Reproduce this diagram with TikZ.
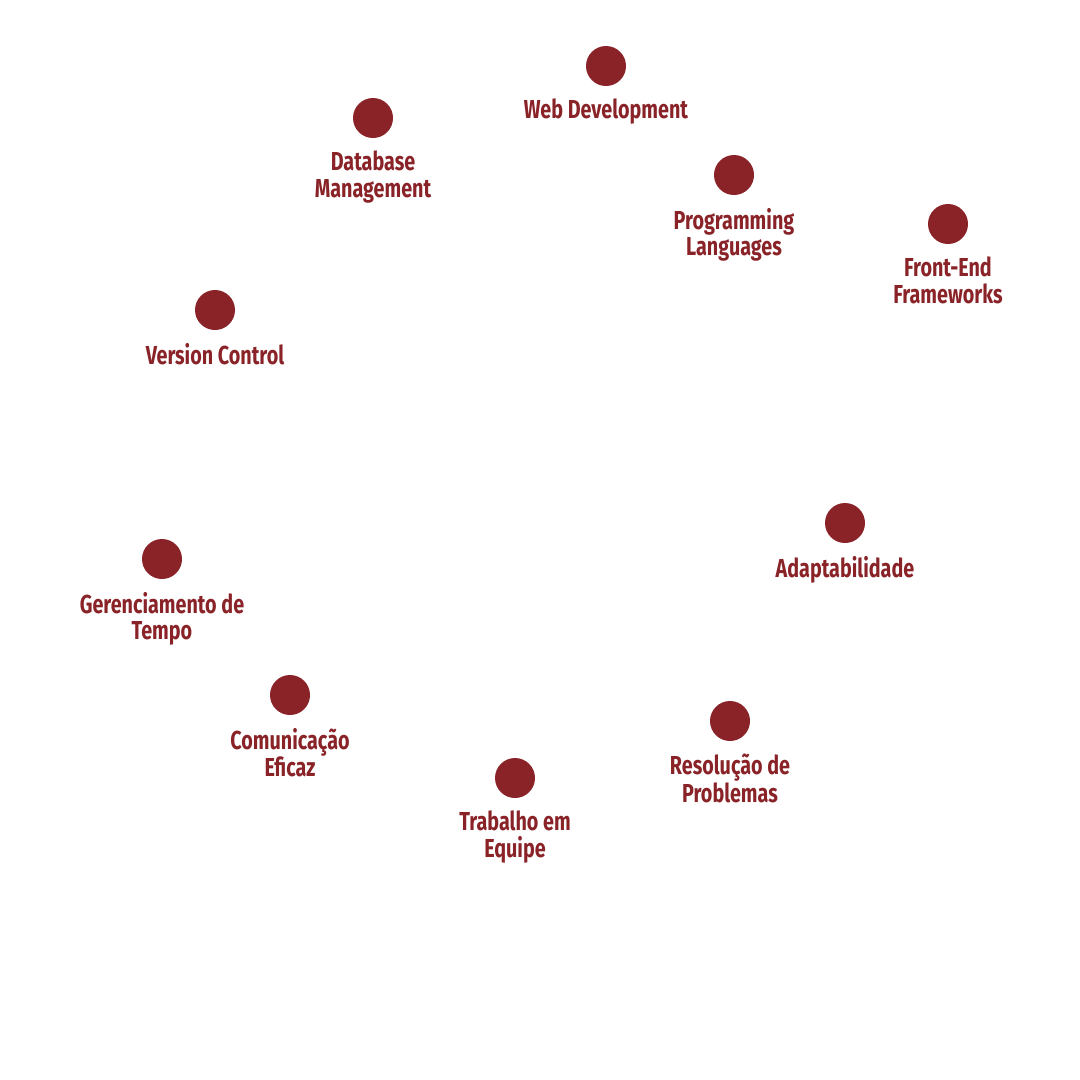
\documentclass[tikz,border=0pt]{standalone}
\usepackage{fontspec}
\setmainfont{Fira Sans}[FakeStretch=0.76]
\definecolor{dotred}{HTML}{8A2328}
\begin{document}
\begin{tikzpicture}[x=1pt,y=-1pt,
  dotmark/.style={circle,fill=dotred,draw=none,minimum size=40pt,inner sep=0pt},
  skill/.style={text=dotred,font=\fontsize{26}{26.5}\selectfont\bfseries,align=center,anchor=north,inner sep=0pt}]
\useasboundingbox[fill=white] (0,0) rectangle (1080,1080);
\node[dotmark] (d1) at (606,66) {};
\node[skill] (t1) at (606,99) {Web Development};
\node[dotmark] (d2) at (373,118) {};
\node[skill] (t2) at (373,151) {Database\\Management};
\node[dotmark] (d3) at (734,175) {};
\node[skill] (t3) at (734,208) {Programming\\Languages};
\node[dotmark] (d4) at (948,224) {};
\node[skill] (t4) at (948,257) {Front-End\\Frameworks};
\node[dotmark] (d5) at (215,310) {};
\node[skill] (t5) at (215,343) {Version Control};
\node[dotmark] (d6) at (845,523) {};
\node[skill] (t6) at (845,556) {Adaptabilidade};
\node[dotmark] (d7) at (162,559) {};
\node[skill] (t7) at (162,592) {Gerenciamento de\\Tempo};
\node[dotmark] (d8) at (290,695) {};
\node[skill] (t8) at (290,728) {Comunicação\\Eficaz};
\node[dotmark] (d9) at (730,721) {};
\node[skill] (t9) at (730,754) {Resolução de\\Problemas};
\node[dotmark] (d10) at (515,778) {};
\node[skill] (t10) at (515,811) {Trabalho em\\Equipe};
\end{tikzpicture}
\end{document}
